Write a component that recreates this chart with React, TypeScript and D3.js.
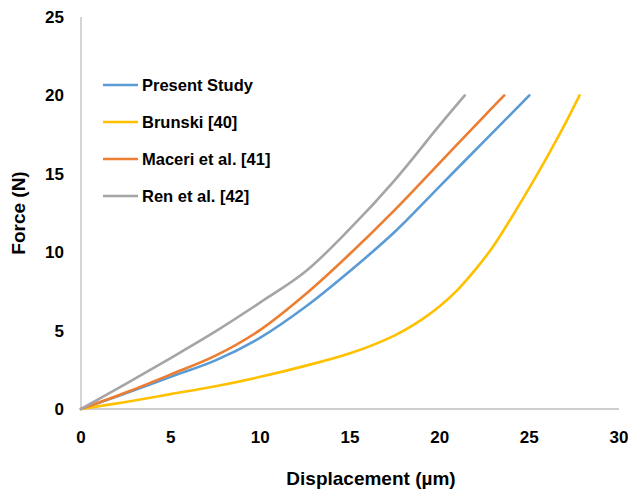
import React, { useEffect, useRef } from 'react';
import * as d3 from 'd3';

// Force-displacement curves
const presentStudy: [number, number][] = [
  [0, 0], [2.5, 1.0], [5, 2.05], [7.5, 3.1], [10, 4.55], [12.5, 6.5],
  [15, 8.8], [17.5, 11.3], [20, 14.2], [22.5, 17.1], [25, 20],
];
const brunski: [number, number][] = [
  [0, 0], [2.5, 0.45], [5, 0.95], [7.5, 1.45], [10, 2.05], [12.5, 2.75],
  [15, 3.55], [17.5, 4.7], [19, 5.7], [20, 6.55], [21, 7.6], [22, 8.9],
  [23, 10.4], [24, 12.2], [25, 14.1], [26, 16.1], [27, 18.2], [27.8, 20],
];
const maceri: [number, number][] = [
  [0, 0], [2.5, 1.05], [5, 2.2], [7.5, 3.4], [10, 5.05], [12.5, 7.3],
  [15, 9.9], [17.5, 12.7], [20, 15.7], [22.5, 18.7], [23.6, 20],
];
const ren: [number, number][] = [
  [0, 0], [2.5, 1.6], [5, 3.25], [7.5, 4.95], [10, 6.8], [12.5, 8.75],
  [15, 11.5], [17.5, 14.6], [20, 18.1], [21.4, 20],
];

const seriesNames = ['Present Study', 'Brunski [40]', 'Maceri et al. [41]', 'Ren et al. [42]'];
const seriesData = [presentStudy, brunski, maceri, ren];
const seriesColors = ['#5B9BD5', '#FFC000', '#ED7D31', '#A5A5A5'];

const xTicks = [0, 5, 10, 15, 20, 25, 30];
const yTicks = [0, 5, 10, 15, 20, 25];

const App = () => {
  const ref = useRef<SVGSVGElement>(null);

  useEffect(() => {
    if (!ref.current) return;
    const svg = d3.select(ref.current);
    svg.selectAll('*').remove();

    const font = '"Liberation Sans", Arial, sans-serif';
    const x = d3.scaleLinear().domain([0, 30]).range([81, 619]);
    const y = d3.scaleLinear().domain([0, 25]).range([409, 17]);

    // axis lines
    svg.append('line')
      .attr('x1', x(0)).attr('x2', x(0)).attr('y1', y(0)).attr('y2', y(25))
      .attr('stroke', '#BFBFBF').attr('stroke-width', 1.3);
    svg.append('line')
      .attr('x1', x(0)).attr('x2', x(30)).attr('y1', y(0)).attr('y2', y(0))
      .attr('stroke', '#BFBFBF').attr('stroke-width', 1.3);

    // tick labels
    svg.selectAll('.ytick')
      .data(yTicks)
      .enter()
      .append('text')
      .attr('x', 64)
      .attr('y', d => y(d) + 6)
      .attr('text-anchor', 'end')
      .text(d => d)
      .style('font-family', font)
      .style('font-weight', 'bold')
      .style('font-size', '17px')
      .style('fill', '#000');

    svg.selectAll('.xtick')
      .data(xTicks)
      .enter()
      .append('text')
      .attr('x', d => x(d))
      .attr('y', 443)
      .attr('text-anchor', 'middle')
      .text(d => d)
      .style('font-family', font)
      .style('font-weight', 'bold')
      .style('font-size', '17px')
      .style('fill', '#000');

    // axis titles
    svg.append('text')
      .attr('x', 371)
      .attr('y', 485)
      .attr('text-anchor', 'middle')
      .text('Displacement (µm)')
      .style('font-family', font)
      .style('font-weight', 'bold')
      .style('font-size', '19px');

    svg.append('text')
      .attr('transform', 'translate(25, 213) rotate(-90)')
      .attr('text-anchor', 'middle')
      .text('Force (N)')
      .style('font-family', font)
      .style('font-weight', 'bold')
      .style('font-size', '19px');

    // curves
    const line = d3.line<[number, number]>()
      .x(d => x(d[0]))
      .y(d => y(d[1]))
      .curve(d3.curveCatmullRom.alpha(0.5));

    seriesData.forEach((data, i) => {
      svg.append('path')
        .datum(data)
        .attr('d', line)
        .attr('fill', 'none')
        .attr('stroke', seriesColors[i])
        .attr('stroke-width', 2.6)
        .attr('stroke-linecap', 'round');
    });

    // legend
    seriesNames.forEach((name, i) => {
      const ly = 85 + i * 37;
      svg.append('line')
        .attr('x1', 103).attr('x2', 138).attr('y1', ly).attr('y2', ly)
        .attr('stroke', seriesColors[i])
        .attr('stroke-width', 2.6);
      svg.append('text')
        .attr('x', 142)
        .attr('y', ly + 6)
        .text(name)
        .style('font-family', font)
        .style('font-weight', 'bold')
        .style('font-size', '16.5px');
    });
  }, []);

  return (
    <svg
      ref={ref}
      width={628}
      height={492}
      style={{ position: 'absolute', left: 0, top: 0, background: '#fff' }}
    />
  );
};

export default App;
